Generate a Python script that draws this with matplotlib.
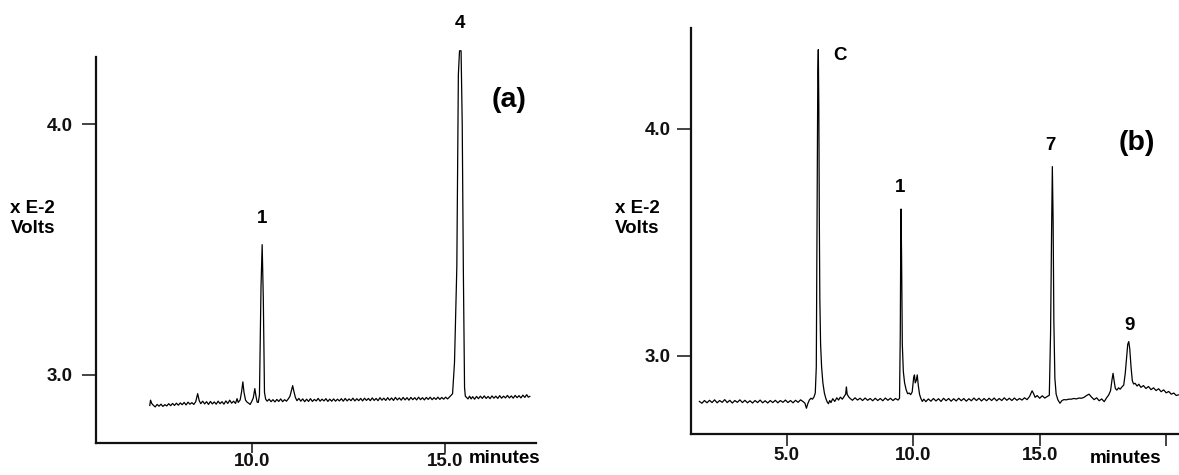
import matplotlib
matplotlib.use("Agg")
import matplotlib.pyplot as plt

plt.rcParams['font.family'] = ['Liberation Sans', 'DejaVu Sans']
plt.rcParams['font.weight'] = 'bold'

# ---------------- data (x E-2 Volts vs minutes) ----------------
a_time = [7.36, 7.38, 7.41, 7.45, 7.50, 7.55, 7.60, 7.65, 7.70, 7.75, 7.80, 7.85, 7.90, 7.95,
          8.00, 8.05, 8.10, 8.15, 8.20, 8.25, 8.30, 8.35, 8.40, 8.45, 8.50, 8.55, 8.60, 8.64,
          8.68, 8.73, 8.78, 8.83, 8.88, 8.93, 8.98, 9.03, 9.08, 9.13, 9.18, 9.23, 9.28, 9.33,
          9.38, 9.43, 9.48, 9.53, 9.58, 9.62, 9.65, 9.70, 9.74, 9.77, 9.80, 9.84, 9.88, 9.92,
          9.96, 10.00, 10.04, 10.08, 10.11, 10.14, 10.17, 10.20, 10.24, 10.27, 10.30, 10.33,
          10.36, 10.40, 10.45, 10.50, 10.55, 10.60, 10.65, 10.70, 10.75, 10.80, 10.85, 10.90,
          10.95, 10.99, 11.03, 11.06, 11.09, 11.13, 11.17, 11.22, 11.27, 11.32, 11.37, 11.42,
          11.47, 11.52, 11.57, 11.62, 11.67, 11.72, 11.77, 11.82, 11.87, 11.92, 11.97, 12.02,
          12.07, 12.12, 12.17, 12.22, 12.27, 12.32, 12.37, 12.42, 12.47, 12.52, 12.57, 12.62,
          12.67, 12.72, 12.77, 12.82, 12.87, 12.92, 12.97, 13.02, 13.07, 13.12, 13.17, 13.22,
          13.27, 13.32, 13.37, 13.42, 13.47, 13.52, 13.57, 13.62, 13.67, 13.72, 13.77, 13.82,
          13.87, 13.92, 13.97, 14.02, 14.07, 14.12, 14.17, 14.22, 14.27, 14.32, 14.37, 14.42,
          14.47, 14.52, 14.57, 14.62, 14.67, 14.72, 14.77, 14.82, 14.87, 14.92, 14.97, 15.02,
          15.07, 15.11, 15.16, 15.20, 15.25, 15.31, 15.35, 15.38, 15.42, 15.45, 15.48, 15.51,
          15.53, 15.56, 15.60, 15.64, 15.68, 15.72, 15.77, 15.82, 15.87, 15.92, 15.97, 16.02,
          16.07, 16.12, 16.17, 16.22, 16.27, 16.32, 16.37, 16.42, 16.47, 16.52, 16.57, 16.62,
          16.67, 16.72, 16.77, 16.82, 16.87, 16.92, 16.97, 17.02, 17.07, 17.12, 17.16, 17.20]
a_volt = [2.878, 2.899, 2.886, 2.879, 2.872, 2.882, 2.875, 2.883, 2.874, 2.881, 2.876, 2.885, 2.877, 2.886,
          2.878, 2.887, 2.879, 2.888, 2.881, 2.890, 2.880, 2.891, 2.883, 2.889, 2.882, 2.893, 2.925, 2.897,
          2.885, 2.895, 2.884, 2.893, 2.882, 2.894, 2.884, 2.892, 2.883, 2.895, 2.885, 2.893, 2.883, 2.896,
          2.886, 2.899, 2.887, 2.895, 2.886, 2.905, 2.890, 2.900, 2.935, 2.972, 2.930, 2.899, 2.891, 2.887,
          2.882, 2.894, 2.908, 2.945, 2.915, 2.891, 2.890, 2.920, 3.350, 3.520, 3.300, 2.930,
          2.903, 2.895, 2.903, 2.893, 2.901, 2.892, 2.902, 2.894, 2.904, 2.893, 2.901, 2.895,
          2.905, 2.915, 2.940, 2.957, 2.935, 2.910, 2.897, 2.906, 2.895, 2.904, 2.893, 2.903,
          2.894, 2.905, 2.894, 2.902, 2.896, 2.906, 2.895, 2.903, 2.896, 2.905, 2.894, 2.903,
          2.895, 2.904, 2.895, 2.903, 2.896, 2.905, 2.895, 2.906, 2.896, 2.904, 2.897, 2.907,
          2.896, 2.905, 2.897, 2.906, 2.896, 2.907, 2.898, 2.906, 2.897, 2.908, 2.898, 2.906,
          2.897, 2.909, 2.899, 2.907, 2.898, 2.909, 2.899, 2.908, 2.898, 2.910, 2.900, 2.908,
          2.899, 2.910, 2.900, 2.909, 2.899, 2.910, 2.901, 2.909, 2.900, 2.911, 2.901, 2.909,
          2.900, 2.910, 2.902, 2.911, 2.901, 2.909, 2.902, 2.911, 2.902, 2.910, 2.903, 2.911,
          2.904, 2.910, 2.918, 2.925, 3.050, 3.430, 4.200, 4.294, 4.294, 4.000, 3.400, 2.950,
          2.915, 2.910, 2.904, 2.915, 2.904, 2.913, 2.903, 2.914, 2.905, 2.915, 2.906, 2.916,
          2.906, 2.914, 2.905, 2.916, 2.907, 2.915, 2.906, 2.917, 2.907, 2.915, 2.908, 2.918,
          2.908, 2.916, 2.907, 2.918, 2.909, 2.917, 2.908, 2.919, 2.910, 2.921, 2.911, 2.914]

b_time = [1.55, 1.65, 1.75, 1.85, 1.95, 2.05, 2.15, 2.25, 2.35, 2.45, 2.55, 2.65, 2.75, 2.85,
          2.95, 3.05, 3.15, 3.25, 3.35, 3.45, 3.55, 3.65, 3.75, 3.85, 3.95, 4.05, 4.15, 4.25,
          4.35, 4.45, 4.55, 4.65, 4.75, 4.85, 4.95, 5.05, 5.15, 5.25, 5.35, 5.45, 5.55, 5.65,
          5.72, 5.78, 5.84, 5.90, 5.96, 6.02, 6.08, 6.13, 6.17, 6.20, 6.23, 6.25, 6.27, 6.29,
          6.31, 6.34, 6.38, 6.43, 6.49, 6.55, 6.60, 6.65, 6.70, 6.75, 6.82, 6.90, 6.98, 7.05,
          7.12, 7.20, 7.28, 7.33, 7.36, 7.39, 7.45, 7.52, 7.60, 7.70, 7.80, 7.90, 8.00, 8.10,
          8.20, 8.30, 8.40, 8.50, 8.60, 8.70, 8.80, 8.90, 9.00, 9.10, 9.20, 9.30, 9.40, 9.46,
          9.49, 9.51, 9.52, 9.54, 9.57, 9.61, 9.66, 9.72, 9.78, 9.84, 9.90, 9.96, 10.02, 10.05,
          10.08, 10.12, 10.16, 10.20, 10.25, 10.30, 10.36, 10.42, 10.50, 10.60, 10.70, 10.80,
          10.90, 11.00, 11.10, 11.20, 11.30, 11.40, 11.50, 11.60, 11.70, 11.80, 11.90, 12.00,
          12.10, 12.20, 12.30, 12.40, 12.50, 12.60, 12.70, 12.80, 12.90, 13.00, 13.10, 13.20,
          13.30, 13.40, 13.50, 13.60, 13.70, 13.80, 13.90, 14.00, 14.10, 14.20, 14.30, 14.40,
          14.50, 14.60, 14.70, 14.76, 14.82, 14.90, 15.00, 15.10, 15.20, 15.30, 15.38, 15.43,
          15.47, 15.50, 15.53, 15.56, 15.60, 15.65, 15.72, 15.80, 15.88, 15.96, 16.05, 16.15,
          16.25, 16.35, 16.45, 16.55, 16.65, 16.75, 16.85, 16.95, 17.05, 17.15, 17.25, 17.35,
          17.45, 17.55, 17.65, 17.72, 17.80, 17.86, 17.90, 17.94, 17.99, 18.05, 18.12, 18.18,
          18.25, 18.32, 18.38, 18.44, 18.48, 18.52, 18.56, 18.61, 18.66, 18.71, 18.77, 18.85,
          18.92, 19.00, 19.10, 19.20, 19.30, 19.40, 19.50, 19.60, 19.70, 19.80, 19.90, 20.00,
          20.10, 20.20, 20.30, 20.40, 20.48]
b_volt = [2.798, 2.790, 2.802, 2.792, 2.803, 2.793, 2.805, 2.792, 2.802, 2.794, 2.806, 2.793, 2.803, 2.791,
          2.802, 2.794, 2.805, 2.793, 2.803, 2.792, 2.801, 2.791, 2.802, 2.793, 2.804, 2.792, 2.801, 2.791,
          2.802, 2.793, 2.803, 2.792, 2.802, 2.794, 2.804, 2.793, 2.802, 2.792, 2.803, 2.794, 2.805, 2.797,
          2.790, 2.768, 2.790, 2.805, 2.812, 2.808, 2.818, 2.835, 2.950, 3.600, 4.250, 4.350, 4.100, 3.600,
          3.250, 3.050, 2.950, 2.880, 2.835, 2.810, 2.796, 2.788, 2.802, 2.793, 2.810, 2.798, 2.814, 2.804,
          2.817, 2.808, 2.822, 2.830, 2.862, 2.830, 2.818, 2.810, 2.803, 2.814, 2.804, 2.812, 2.802, 2.813,
          2.803, 2.811, 2.801, 2.812, 2.802, 2.811, 2.801, 2.813, 2.803, 2.812, 2.802, 2.811, 2.804, 2.812,
          3.100, 3.550, 3.647, 3.450, 3.050, 2.930, 2.880, 2.850, 2.832, 2.835, 2.828, 2.840, 2.905, 2.915,
          2.880, 2.890, 2.915, 2.870, 2.830, 2.812, 2.798, 2.808, 2.797, 2.809, 2.799, 2.811,
          2.800, 2.810, 2.798, 2.812, 2.801, 2.811, 2.799, 2.810, 2.800, 2.812, 2.801, 2.811,
          2.799, 2.810, 2.801, 2.813, 2.802, 2.812, 2.800, 2.811, 2.801, 2.812, 2.802, 2.813,
          2.801, 2.811, 2.802, 2.814, 2.803, 2.812, 2.802, 2.813, 2.803, 2.811, 2.804, 2.814,
          2.806, 2.820, 2.845, 2.832, 2.816, 2.824, 2.812, 2.823, 2.813, 2.820, 2.825, 3.100,
          3.550, 3.834, 3.600, 3.150, 2.900, 2.830, 2.805, 2.790, 2.802, 2.806, 2.805, 2.808,
          2.808, 2.811, 2.809, 2.813, 2.812, 2.816, 2.824, 2.830, 2.817, 2.806, 2.814, 2.801,
          2.809, 2.797, 2.815, 2.825, 2.845, 2.895, 2.922, 2.890, 2.855, 2.848, 2.858, 2.852,
          2.862, 2.870, 2.920, 3.000, 3.050, 3.062, 3.030, 2.950, 2.890, 2.875, 2.878, 2.866,
          2.874, 2.860, 2.868, 2.855, 2.864, 2.850, 2.858, 2.846, 2.854, 2.841, 2.849, 2.836,
          2.842, 2.830, 2.835, 2.824, 2.827]

a_yticks = [3.0, 4.0]
a_xticks = [10.0, 15.0]
a_xticklabels = ["10.0", "15.0"]
b_yticks = [3.0, 4.0]
b_xticks = [5.0, 10.0, 15.0, 20.0]
b_xticklabels = ["5.0", "10.0", "15.0", ""]

a_peak_labels = ["1", "4"]
a_peak_label_t = [10.27, 15.38]
a_peak_label_v = [3.625, 4.405]
b_peak_labels = ["C", "1", "7", "9"]
b_peak_label_t = [7.11, 9.48, 15.41, 18.54]
b_peak_label_v = [4.326, 3.74, 3.925, 3.135]

# ---------------- figure ----------------
W, H = 1179, 475
fig = plt.figure(figsize=(W / 100, H / 100), dpi=100)

def rect(x0, y0_top, x1, y1_bottom):
    return [x0 / W, 1 - y1_bottom / H, (x1 - x0) / W, (y1_bottom - y0_top) / H]

TICK_FS = 13.5
FONT = dict(fontweight='bold', fontsize=TICK_FS)

def style(ax, ylim, spine_top, xlim, xticks, xlabels, yticks, xtlen, ypad):
    ax.set_xlim(*xlim)
    ax.set_ylim(*ylim)
    for s in ('top', 'right'):
        ax.spines[s].set_visible(False)
    for s in ('left', 'bottom'):
        ax.spines[s].set_linewidth(1.6)
        ax.spines[s].set_color('#111111')
    ax.spines['left'].set_bounds(ylim[0], spine_top)
    ax.set_xticks(xticks)
    ax.set_xticklabels(xlabels, **FONT)
    ax.set_yticks(yticks)
    ax.set_yticklabels([f"{v:.1f}" for v in yticks], **FONT)
    ax.tick_params(axis='y', direction='out', length=10, width=1.1, pad=ypad, colors='#111111')
    ax.tick_params(axis='x', direction='out', length=xtlen, width=1.1, pad=0.5, colors='#111111')
    ax.patch.set_visible(False)

# panel (a)
axa = fig.add_axes(rect(95.7, 124.3 - 0.30 * 250, 536, 443))
axa.plot(a_time, a_volt, color='black', lw=0.9, clip_on=False)
style(axa, (2.728, 4.30), 4.27, (5.96, 17.36), a_xticks, a_xticklabels, a_yticks, 7, 6.5)
for lab, t, v in zip(a_peak_labels, a_peak_label_t, a_peak_label_v):
    axa.text(t, v, lab, ha='center', va='center', clip_on=False, **FONT)
axa.text(16.66, 4.097, "(a)", ha='center', va='center', fontsize=20.5, fontweight='bold')
fig.text(469 / W, 1 - 458.5 / H, "minutes", ha='left', va='center', **FONT)
fig.text(10.5 / W, 1 - 218.5 / H, "x E-2\nVolts", ha='left', va='center',
         linespacing=1.22, **FONT)

# panel (b)
b_top_val = 4.445
axb = fig.add_axes(rect(690.7, 129 - (b_top_val - 4.0) * 226.7, 1179, 434.3))
axb.plot(b_time, b_volt, color='black', lw=0.9, clip_on=False)
style(axb, (2.653, b_top_val), b_top_val, (1.206, 20.506), b_xticks, b_xticklabels, b_yticks, 8.5, 4.5)
for lab, t, v in zip(b_peak_labels, b_peak_label_t, b_peak_label_v):
    axb.text(t, v, lab, ha='center', va='center', clip_on=False, **FONT)
axb.text(18.85, 3.938, "(b)", ha='center', va='center', fontsize=20.5, fontweight='bold')
fig.text(1090 / W, 1 - 458.5 / H, "minutes", ha='left', va='center', **FONT)
fig.text(615 / W, 1 - 218.5 / H, "x E-2\nVolts", ha='left', va='center',
         linespacing=1.22, **FONT)

fig.savefig("out.png", dpi=100, facecolor='white')
